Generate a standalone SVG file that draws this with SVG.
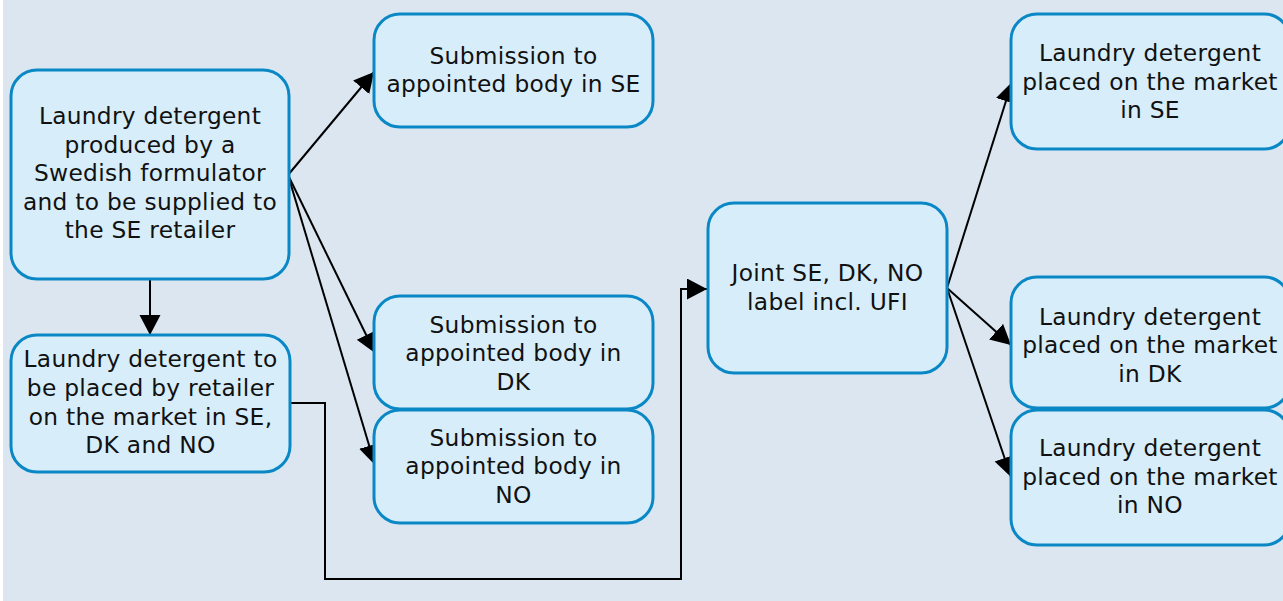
<svg xmlns="http://www.w3.org/2000/svg" width="1283" height="601" viewBox="0 0 1283 601">
  <style>
    .box { fill: #d7edfa; stroke: #0a88c6; stroke-width: 3; }
    .lbl { font-family: "DejaVu Sans", Verdana, sans-serif; font-size: 23.3px; letter-spacing: 0.3px; fill: #111; text-anchor: middle; }
    .wire { fill: none; stroke: #000; stroke-width: 2; }
  </style>
  <defs>
    <marker id="arrow" markerUnits="userSpaceOnUse" markerWidth="22" markerHeight="22" refX="20" refY="10.5" orient="auto">
      <path d="M0,0 L20,10.5 L0,21 z" fill="#000"/>
    </marker>
  </defs>

  <rect x="0" y="0" width="1283" height="601" fill="#ffffff"/>
  <rect x="3" y="0" width="1280" height="601" fill="#dce6f1"/>

  <!-- connectors -->
  <g id="connectors">
    <line class="wire" x1="288" y1="175" x2="374" y2="72" marker-end="url(#arrow)"/>
    <line class="wire" x1="288" y1="175" x2="375" y2="353" marker-end="url(#arrow)"/>
    <line class="wire" x1="288" y1="175" x2="375" y2="465" marker-end="url(#arrow)"/>
    <line class="wire" x1="150" y1="280" x2="150" y2="335" marker-end="url(#arrow)"/>
    <polyline class="wire" points="290,403 325,403 325,579 681,579 681,289 707,289" marker-end="url(#arrow)"/>
    <line class="wire" x1="947" y1="288" x2="1012" y2="82" marker-end="url(#arrow)"/>
    <line class="wire" x1="947" y1="288" x2="1011" y2="345" marker-end="url(#arrow)"/>
    <line class="wire" x1="947" y1="288" x2="1011" y2="477" marker-end="url(#arrow)"/>
  </g>

  <g id="producer">
    <rect class="box" x="11" y="70" width="278" height="209" rx="26"/>
    <text class="lbl" x="150" y="124">Laundry detergent</text>
    <text class="lbl" x="150" y="152.5">produced by a</text>
    <text class="lbl" x="150" y="181">Swedish formulator</text>
    <text class="lbl" x="150" y="209.5">and to be supplied to</text>
    <text class="lbl" x="150" y="238">the SE retailer</text>
  </g>

  <g id="retailer">
    <rect class="box" x="11" y="335" width="279" height="137" rx="26"/>
    <text class="lbl" x="150.5" y="367">Laundry detergent to</text>
    <text class="lbl" x="150.5" y="396">be placed by retailer</text>
    <text class="lbl" x="150.5" y="424.5">on the market in SE,</text>
    <text class="lbl" x="150.5" y="453">DK and NO</text>
  </g>

  <g id="submission-se">
    <rect class="box" x="374" y="14" width="279" height="113" rx="26"/>
    <text class="lbl" x="513.5" y="63.5">Submission to</text>
    <text class="lbl" x="513.5" y="92">appointed body in SE</text>
  </g>

  <g id="submission-dk">
    <rect class="box" x="374" y="296" width="279" height="113" rx="26"/>
    <text class="lbl" x="513.5" y="332.5">Submission to</text>
    <text class="lbl" x="513.5" y="361">appointed body in</text>
    <text class="lbl" x="513.5" y="389.5">DK</text>
  </g>

  <g id="submission-no">
    <rect class="box" x="374" y="410" width="279" height="113" rx="26"/>
    <text class="lbl" x="513.5" y="446">Submission to</text>
    <text class="lbl" x="513.5" y="474">appointed body in</text>
    <text class="lbl" x="513.5" y="502.5">NO</text>
  </g>

  <g id="joint-label">
    <rect class="box" x="708" y="203" width="239" height="170" rx="26"/>
    <text class="lbl" x="827.5" y="281">Joint SE, DK, NO</text>
    <text class="lbl" x="827.5" y="309.5">label incl. UFI</text>
  </g>

  <g id="market-se">
    <rect class="box" x="1011" y="14" width="279" height="135" rx="26"/>
    <text class="lbl" x="1150" y="61">Laundry detergent</text>
    <text class="lbl" x="1150" y="89.5">placed on the market</text>
    <text class="lbl" x="1150" y="118">in SE</text>
  </g>

  <g id="market-dk">
    <rect class="box" x="1011" y="277" width="279" height="131" rx="26"/>
    <text class="lbl" x="1150" y="324.5">Laundry detergent</text>
    <text class="lbl" x="1150" y="353">placed on the market</text>
    <text class="lbl" x="1150" y="381.5">in DK</text>
  </g>

  <g id="market-no">
    <rect class="box" x="1011" y="410" width="279" height="135" rx="26"/>
    <text class="lbl" x="1150" y="456">Laundry detergent</text>
    <text class="lbl" x="1150" y="485">placed on the market</text>
    <text class="lbl" x="1150" y="513">in NO</text>
  </g>
</svg>
